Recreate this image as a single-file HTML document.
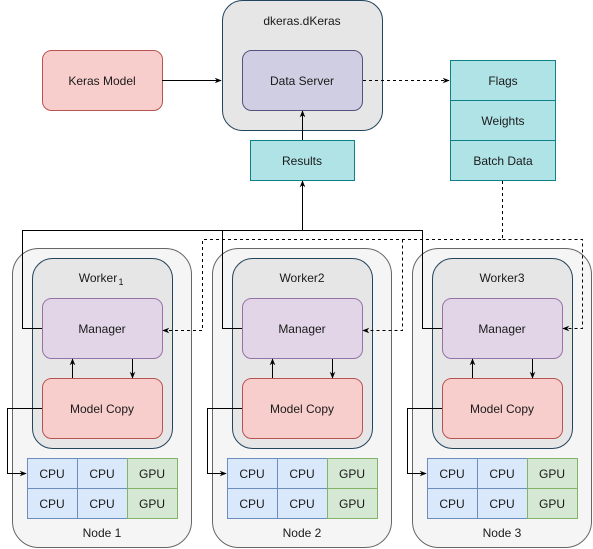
<!DOCTYPE html>
<html><head><meta charset="utf-8"><style>
html,body{margin:0;padding:0;background:#fff;width:593px;height:549px;overflow:hidden}
svg text{font-family:"Liberation Sans",sans-serif;font-size:12px;fill:#1a1a1a;text-anchor:middle;dominant-baseline:central}
</style></head><body>
<svg width="593" height="549" viewBox="0 0 593 549" xmlns="http://www.w3.org/2000/svg">
<defs>
<marker id="a" viewBox="0 0 10 10" refX="9" refY="5" markerWidth="7" markerHeight="7" orient="auto"><path d="M0,1 L10,5 L0,9 L3,5 z" fill="#000"/></marker>
<g id="node">
<rect x="12.5" y="248.5" width="179" height="299" rx="26" fill="#f5f5f5" stroke="#666"/>
<rect x="32.5" y="258.5" width="140" height="190" rx="20" fill="#e6e6e6" stroke="#23445d"/>
<rect x="42.5" y="298.5" width="120" height="60" rx="9" fill="#e1d5e7" stroke="#9673a6"/>
<text x="102" y="329">Manager</text>
<rect x="42.5" y="378.5" width="120" height="60" rx="9" fill="#f8cecc" stroke="#b85450"/>
<text x="102" y="409">Model Copy</text>
<line x1="72.5" y1="378" x2="72.5" y2="359" stroke="#000" marker-end="url(#a)"/>
<line x1="132.5" y1="359" x2="132.5" y2="378" stroke="#000" marker-end="url(#a)"/>
<g stroke="#6c8ebf" fill="#dae8fc">
<rect x="27.5" y="458.5" width="50" height="30"/><rect x="77.5" y="458.5" width="50" height="30"/>
<rect x="27.5" y="488.5" width="50" height="30"/><rect x="77.5" y="488.5" width="50" height="30"/>
</g>
<g stroke="#82b366" fill="#d5e8d4">
<rect x="127.5" y="458.5" width="50" height="30"/><rect x="127.5" y="488.5" width="50" height="30"/>
</g>
<text x="52" y="474">CPU</text><text x="102" y="474">CPU</text><text x="152" y="474">GPU</text>
<text x="52" y="504">CPU</text><text x="102" y="504">CPU</text><text x="152" y="504">GPU</text>
<polyline points="42,408.5 7.5,408.5 7.5,473.5 26,473.5" fill="none" stroke="#000" marker-end="url(#a)"/>
</g>
</defs>

<!-- top -->
<rect x="42.5" y="50.5" width="120" height="60" rx="9" fill="#f8cecc" stroke="#b85450"/>
<text x="102" y="81">Keras Model</text>
<line x1="162" y1="80.5" x2="221" y2="80.5" stroke="#000" marker-end="url(#a)"/>
<rect x="222.5" y="0.5" width="160" height="130" rx="20" fill="#e6e6e6" stroke="#23445d"/>
<text x="302" y="21">dkeras.dKeras</text>
<rect x="242.5" y="50.5" width="120" height="60" rx="9" fill="#d0cee2" stroke="#56517e"/>
<text x="302" y="81">Data Server</text>
<line x1="363" y1="80.5" x2="449" y2="80.5" stroke="#000" stroke-dasharray="3,3" marker-end="url(#a)"/>
<g fill="#b0e3e6" stroke="#0e8088">
<rect x="450.5" y="60.5" width="105" height="40"/><rect x="450.5" y="100.5" width="105" height="40"/><rect x="450.5" y="140.5" width="105" height="40"/>
</g>
<text x="503" y="81">Flags</text><text x="503" y="121">Weights</text><text x="503" y="161">Batch Data</text>
<rect x="250.5" y="140.5" width="104" height="40" fill="#b0e3e6" stroke="#0e8088"/>
<text x="302" y="161">Results</text>
<line x1="302.5" y1="140" x2="302.5" y2="111" stroke="#000" marker-end="url(#a)"/>

<!-- nodes -->
<use href="#node"/>
<use href="#node" x="200"/>
<use href="#node" x="400"/>
<text x="102" y="533">Node 1</text><text x="302" y="533">Node 2</text><text x="502" y="533">Node 3</text>
<text x="98" y="278">Worker</text><text x="121" y="282" style="font-size:9px">1</text>
<text x="302" y="278">Worker2</text><text x="502" y="278">Worker3</text>

<!-- solid manager to results -->
<polyline points="42,328.5 22.5,328.5 22.5,230.5 422.5,230.5 422.5,328.5 442,328.5" fill="none" stroke="#000"/>
<polyline points="242,328.5 222.5,328.5 222.5,230.5" fill="none" stroke="#000"/>
<line x1="302.5" y1="230" x2="302.5" y2="181" stroke="#000" marker-end="url(#a)"/>

<!-- dashed -->
<g fill="none" stroke="#000" stroke-dasharray="3,3">
<polyline points="502.5,181 502.5,239.5 202.5,239.5 202.5,330.5 163,330.5" marker-end="url(#a)"/>
<polyline points="402.5,239.5 402.5,330.5 363,330.5" marker-end="url(#a)"/>
<polyline points="502.5,239.5 582.5,239.5 582.5,328.5 563,328.5" marker-end="url(#a)"/>
</g>
</svg>
</body></html>
